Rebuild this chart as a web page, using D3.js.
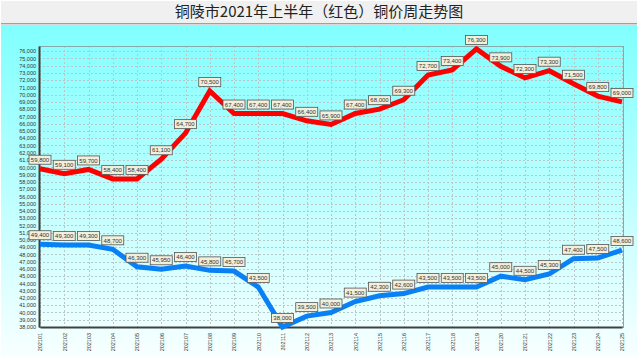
<!DOCTYPE html>
<html><head><meta charset="utf-8">
<script src="https://cdn.jsdelivr.net/npm/d3@7/dist/d3.min.js"></script>
<style>body{margin:0;padding:0;overflow:hidden;background:#fff}svg{display:block}</style>
</head><body>
<script>
const title = "铜陵市2021年上半年（红色）铜价周走势图";
const categories = ["202101","202102","202103","202104","202105","202106","202107","202108","202109","202110","202111","202112","202113","202114","202115","202116","202117","202118","202119","202120","202121","202122","202123","202124","202125"];
const redValues = [59800,59100,59700,58400,58400,61100,64700,70500,67400,67400,67400,66400,65900,67400,68000,69300,72700,73400,76300,73900,72300,73300,71500,69800,69000];
const blueValues = [49400,49300,49300,48700,46300,45950,46400,45800,45700,43500,38000,39500,40000,41500,42300,42600,43500,43500,43500,45000,44500,45300,47400,47500,48600];
const yTicks = d3.range(38000, 76001, 1000);

const W = 638, H = 358;
const m = {left: 39, right: 14, top: 46, bottom: 31};
const svg = d3.select("body").append("svg").attr("width", W).attr("height", H);
const defs = svg.append("defs");
const g1 = defs.append("linearGradient").attr("id","bg").attr("x1",0).attr("y1",0).attr("x2",0).attr("y2",1);
g1.append("stop").attr("offset","0%").attr("stop-color","#80ffff");
g1.append("stop").attr("offset","100%").attr("stop-color","#f8ffff");

svg.append("rect").attr("width",W).attr("height",H).attr("fill","#fff");
svg.append("rect").attr("x",1).attr("y",24).attr("width",W-2).attr("height",H-25).attr("fill","url(#bg)");
svg.append("rect").attr("x",1).attr("y",1).attr("width",W-2).attr("height",23).attr("fill","#f0f0f0");
svg.append("line").attr("x1",1).attr("x2",W-1).attr("y1",23.5).attr("y2",23.5).attr("stroke","#a0a0a0");
svg.append("line").attr("x1",1).attr("x2",W-1).attr("y1",24.5).attr("y2",24.5).attr("stroke","#d8d8d8");

svg.append("text").attr("x",W/2).attr("y",17).attr("text-anchor","middle")
  .attr("font-family","'Noto Sans CJK SC', sans-serif").attr("font-size",15).attr("fill","#222").text(title);

const x = d3.scalePoint().domain(categories).range([m.left+1, W-m.right-2]);
const y = d3.scaleLinear().domain([38000, 76700]).range([H-m.bottom, m.top]);

// grid
const grid = svg.append("g");
grid.selectAll("line.h").data(yTicks).join("line")
  .attr("x1",m.left).attr("x2",W-m.right).attr("y1",d=>Math.round(y(d))+0.5).attr("y2",d=>Math.round(y(d))+0.5)
  .attr("stroke","#b8c8c8").attr("stroke-dasharray","2,2").attr("stroke-width",1);
grid.selectAll("line.v").data(categories).join("line")
  .attr("y1",m.top).attr("y2",H-m.bottom).attr("x1",d=>Math.round(x(d))+0.5).attr("x2",d=>Math.round(x(d))+0.5)
  .attr("stroke","#b8c8c8").attr("stroke-dasharray","2,2").attr("stroke-width",1);

// plot border
svg.append("rect").attr("x",m.left+0.5).attr("y",m.top+0.5).attr("width",W-m.right-m.left-1).attr("height",H-m.bottom-m.top)
  .attr("fill","none").attr("stroke","#88aaaa");

// axes
const yAxis = d3.axisLeft(y).tickValues(yTicks).tickSize(0).tickPadding(3).tickFormat(d3.format(","));
const ya = svg.append("g").attr("transform",`translate(${m.left},0)`).call(yAxis);
ya.select(".domain").attr("stroke","#404040").attr("stroke-width",2);
ya.selectAll("text").attr("font-family","Arial, 'Liberation Sans', sans-serif").attr("font-size",5.5).attr("fill","#333");

const xAxis = d3.axisBottom(x).tickSize(0).tickPadding(4);
const xa = svg.append("g").attr("transform",`translate(0,${H-m.bottom})`).call(xAxis);
xa.select(".domain").attr("stroke","#404040").attr("stroke-width",2);
xa.selectAll("text").attr("font-family","Arial, 'Liberation Sans', sans-serif").attr("font-size",5.5).attr("fill","#333")
  .attr("text-anchor","end").attr("dy","0.32em").attr("transform","translate(0,4) rotate(-90)").attr("x",-2).attr("y",0);

const line = d3.line().x((d,i)=>x(categories[i])).y(d=>y(d));
function series(vals, color){
  svg.append("path").datum(vals).attr("d",line).attr("fill","none").attr("stroke",color)
    .attr("stroke-width",5).attr("stroke-linejoin","miter");
  const lg = svg.append("g").selectAll("g").data(vals).join("g")
    .attr("transform",(d,i)=>`translate(${x(categories[i])},${y(d)-9})`);
  lg.append("rect").attr("x",-11).attr("y",-4.5).attr("width",22).attr("height",9)
    .attr("fill","#f2efdc").attr("stroke","#555").attr("stroke-width",0.8);
  lg.append("text").attr("text-anchor","middle").attr("y",2.2)
    .attr("font-family","Arial, 'Liberation Sans', sans-serif").attr("font-size",6).attr("fill","#333")
    .text(d=>d3.format(",")(d));
}
series(redValues, "#ff0000");
series(blueValues, "#0a80f5");
</script>
</body></html>
